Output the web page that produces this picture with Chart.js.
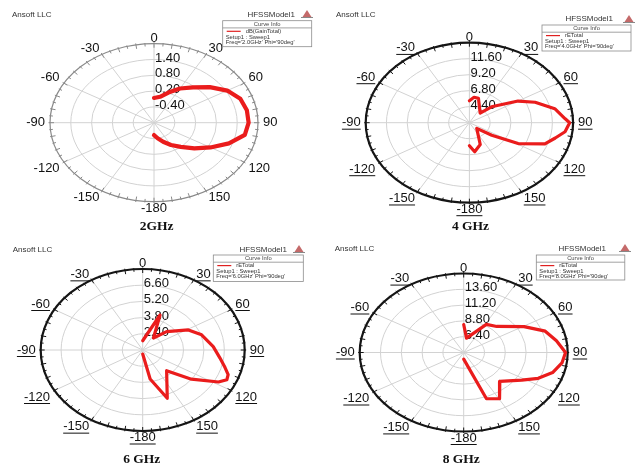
<!DOCTYPE html>
<html>
<head>
<meta charset="utf-8">
<script src="https://cdn.jsdelivr.net/npm/chart.js@4/dist/chart.umd.min.js"></script>
<style>
  html, body { margin: 0; padding: 0; background: #ffffff; }
  #sheet { position: relative; width: 638px; height: 469px; overflow: hidden; background: #ffffff; }
  #sheet canvas { position: absolute; }
</style>
</head>
<body>
<div id="sheet">
  <canvas id="p2" width="320" height="235" style="left:0px;top:0px;width:320px;height:235px"></canvas>
  <canvas id="p4" width="320" height="235" style="left:318px;top:0px;width:320px;height:235px"></canvas>
  <canvas id="p6" width="320" height="234" style="left:0px;top:235px;width:320px;height:234px"></canvas>
  <canvas id="p8" width="320" height="234" style="left:318px;top:235px;width:320px;height:234px"></canvas>
</div>
<script>
// ---- pattern cuts, Phi = 90deg, theta in degrees ----
const captions = ['2GHz', '4 GHz', '6 GHz', '8 GHz'];
const curveNames = ['dB(GainTotal)', 'rETotal', 'rETotal', 'rETotal'];
const freqTags = ["Freq='2.0GHz' Phi='90deg'", "Freq='4.0GHz' Phi='90deg'",
                  "Freq='6.0GHz' Phi='90deg'", "Freq='8.0GHz' Phi='90deg'"];
const angleLabels = [0, 30, 60, 90, 120, 150, -180, -150, -120, -90, -60, -30];

// 2 GHz : dB(GainTotal)
const theta2 = [0, 10, 20, 30, 40, 50, 60, 70, 80, 90, 100, 110, 120, 130, 140, 150, 160, 170, 180];
const gain2  = [-0.06, 0.0, 0.22, 0.5, 0.75, 1.1, 1.44, 1.65, 1.72, 1.73, 1.66, 1.3, 0.88, 0.52, 0.2, -0.02, -0.23, -0.4, -0.53];
const rings2 = [-0.40, 0.20, 0.80, 1.40];
const span2  = [-1.0, 2.0];

// 4 GHz : rETotal
const theta4 = [0, 8, 16, 41, 47, 60, 68, 78, 87, 90, 97, 103, 110, 119, 126, 135, 159, 172, 180];
const rE4    = [5.3, 5.85, 5.8, 3.9, 5.5, 8.5, 10.2, 12.1, 13.1, 13.6, 13.15, 12.2, 11.3, 8.45, 5.2, 3.2, 5.5, 6.4, 5.45];
const rings4 = [4.40, 6.80, 9.20, 11.60];
const span4  = [2.0, 14.0];

// 6 GHz : rETotal
const theta6 = [0, 21.5, 35.5, 46, 61, 72, 86.5, 97.5, 105, 110, 114, 118, 127, 137.5, 158, 168.5, 173, 180];
const rE6    = [1.8, 4.25, 2.27, 3.28, 4.58, 5.25, 5.85, 6.35, 6.85, 7.24, 7.32, 6.89, 5.19, 3.43, 5.5, 3.56, 1.72, 1.35];
const rings6 = [2.40, 3.80, 5.20, 6.60];
const span6  = [1.0, 8.0];

// 8 GHz : rETotal
const theta8 = [0, 8.5, 31.5, 44, 60.5, 71, 80.5, 90, 98, 106.5, 114.5, 122, 136.5, 149.5, 159.5, 180];
const rE8    = [8.25, 6.2, 9.0, 9.5, 12.0, 13.95, 14.85, 15.75, 15.45, 14.7, 13.45, 11.9, 10.05, 12.15, 11.5, 5.0];
const rings8 = [6.40, 8.80, 11.20, 13.60];
const span8  = [4.0, 16.0];

// ---- panel layout (pixels inside each canvas) ----
const panels = [
  { id: 'p2', theta: theta2, vals: gain2, rings: rings2, span: span2,
    cx: 154, cy: 122.7, rx: 104, ry: 79, rimColor: '#8a8a8a', rimWidth: 1.2, underline: false, lw: 4.2,
    ansoft: [12, 15], model: [295, 15], logo: [307, 15], box: [222.7, 20.7, 89, 26], cap: [156.7, 227] },
  { id: 'p4', theta: theta4, vals: rE4, rings: rings4, span: span4,
    cx: 151.4, cy: 122.7, rx: 103.7, ry: 80, rimColor: '#151515', rimWidth: 2.2, underline: true, lw: 3.2,
    ansoft: [18, 15], model: [295, 19], logo: [311, 20], box: [224, 25, 89, 26], cap: [152.5, 227] },
  { id: 'p6', theta: theta6, vals: rE6, rings: rings6, span: span6,
    cx: 142.7, cy: 115, rx: 102, ry: 81, rimColor: '#151515', rimWidth: 2.2, underline: true, lw: 3.2,
    ansoft: [12.7, 15], model: [287, 15], logo: [299, 15], box: [213.3, 20, 90, 26.5], cap: [141.7, 225] },
  { id: 'p8', theta: theta8, vals: rE8, rings: rings8, span: span8,
    cx: 145.7, cy: 117.5, rx: 104, ry: 79, rimColor: '#151515', rimWidth: 2.2, underline: true, lw: 3.2,
    ansoft: [16.7, 14], model: [288, 14], logo: [307, 14], box: [218.3, 20, 88.5, 25], cap: [143.3, 225] }
];

const SANS = '"Liberation Sans", Arial, sans-serif';
const SERIF = '"Liberation Serif", "Times New Roman", serif';
const RAD = Math.PI / 180;

// Polar grid, angle ring, labels and the HFSS header, drawn from the x/y scales
function polarFrame(p, idx) {
  return {
    id: 'polarFrame' + idx,
    beforeDatasetsDraw(chart) {
      const ctx = chart.ctx;
      const sx = chart.scales.x, sy = chart.scales.y;
      const cx = sx.getPixelForValue(0), cy = sy.getPixelForValue(0);
      const rx = sx.getPixelForValue(1) - cx, ry = cy - sy.getPixelForValue(1);
      const lo = p.span[0], hi = p.span[1];
      ctx.save();

      // rings
      ctx.strokeStyle = '#d2d2d2';
      ctx.lineWidth = 1;
      p.rings.forEach(v => {
        const f = (v - lo) / (hi - lo);
        ctx.beginPath();
        ctx.ellipse(cx, cy, rx * f, ry * f, 0, 0, Math.PI * 2);
        ctx.stroke();
      });
      // spokes every 30 degrees
      angleLabels.filter(a => a >= 0 && a < 180).forEach(a => {
        const s = Math.sin(a * RAD), c = Math.cos(a * RAD);
        ctx.beginPath();
        ctx.moveTo(cx - rx * s, cy + ry * c);
        ctx.lineTo(cx + rx * s, cy - ry * c);
        ctx.stroke();
      });

      // outer rim with degree ticks
      ctx.strokeStyle = p.rimColor;
      ctx.lineWidth = p.rimWidth;
      ctx.beginPath();
      ctx.ellipse(cx, cy, rx, ry, 0, 0, Math.PI * 2);
      ctx.stroke();
      ctx.lineWidth = 1;
      for (let a = 0; a < 360; a += 5) {
        const s = Math.sin(a * RAD), c = Math.cos(a * RAD);
        const lin = a % 10 === 0 ? 4 : 2.5, lout = a % 10 === 0 ? 1.5 : 1;
        ctx.beginPath();
        ctx.moveTo(cx + (rx - lin) * s, cy - (ry - lin) * c);
        ctx.lineTo(cx + (rx + lout) * s, cy - (ry + lout) * c);
        ctx.stroke();
      }

      // angle labels
      ctx.fillStyle = '#111';
      ctx.strokeStyle = '#111';
      ctx.font = '13px ' + SANS;
      ctx.textAlign = 'center';
      ctx.textBaseline = 'middle';
      angleLabels.forEach(a => {
        const txt = String(a);
        const s = Math.sin(a * RAD), c = Math.cos(a * RAD);
        const w = ctx.measureText(txt).width, h = 10;
        let x = cx + (rx + 5) * s, y = cy - ry * c;
        if (s > 0.1) x += w / 2; else if (s < -0.1) x -= w / 2;
        if (c > 0.1) y -= h / 2 + 0.5; else if (c < -0.1) y += h / 2 + 1.5;
        if (Math.abs(s) < 0.1) x = cx + (rx + 5) * s;
        ctx.fillText(txt, x, y);
        if (p.underline && a !== 0) {
          ctx.beginPath();
          ctx.moveTo(x - w / 2, y + 6.5);
          ctx.lineTo(x + w / 2, y + 6.5);
          ctx.stroke();
        }
      });

      // ring value labels along the 0 deg spoke
      ctx.textAlign = 'left';
      p.rings.forEach(v => {
        const f = (v - lo) / (hi - lo);
        ctx.fillText(v.toFixed(2), cx + 1, cy - ry * f - 1.5);
      });

      // header texts
      ctx.font = '8px ' + SANS;
      ctx.fillStyle = '#333';
      ctx.textAlign = 'left';
      ctx.fillText('Ansoft LLC', p.ansoft[0], p.ansoft[1]);
      ctx.textAlign = 'right';
      ctx.fillText('HFSSModel1', p.model[0], p.model[1]);

      // small logo
      const lx = p.logo[0], ly = p.logo[1];
      ctx.fillStyle = '#c46a6a';
      ctx.beginPath();
      ctx.moveTo(lx, ly - 5);
      ctx.lineTo(lx + 4.5, ly + 2);
      ctx.lineTo(lx - 4.5, ly + 2);
      ctx.closePath();
      ctx.fill();
      ctx.strokeStyle = '#888';
      ctx.beginPath();
      ctx.moveTo(lx - 6, ly + 2.5);
      ctx.lineTo(lx + 6, ly + 2.5);
      ctx.stroke();

      // curve info box
      const [bx, by, bw, bh] = p.box;
      ctx.fillStyle = '#fff';
      ctx.fillRect(bx, by, bw, bh);
      ctx.strokeStyle = '#8c8c8c';
      ctx.lineWidth = 0.8;
      ctx.strokeRect(bx, by, bw, bh);
      ctx.beginPath();
      ctx.moveTo(bx, by + 7.2);
      ctx.lineTo(bx + bw, by + 7.2);
      ctx.stroke();
      ctx.font = '5.8px ' + SANS;
      ctx.fillStyle = '#444';
      ctx.textAlign = 'center';
      ctx.fillText('Curve Info', bx + bw / 2, by + 3.8);
      ctx.strokeStyle = '#e02020';
      ctx.lineWidth = 1.2;
      ctx.beginPath();
      ctx.moveTo(bx + 4, by + 10.6);
      ctx.lineTo(bx + 18, by + 10.6);
      ctx.stroke();
      ctx.textAlign = 'left';
      ctx.fillStyle = '#333';
      ctx.fillText(curveNames[idx], bx + 23, by + 10.6);
      ctx.fillText('Setup1 : Sweep1', bx + 3, by + 16.6);
      ctx.fillText(freqTags[idx], bx + 3, by + 21.6);

      // caption
      ctx.font = 'bold 13.5px ' + SERIF;
      ctx.fillStyle = '#111';
      ctx.textAlign = 'center';
      ctx.fillText(captions[idx], p.cap[0], p.cap[1]);

      ctx.restore();
    }
  };
}

panels.forEach((p, idx) => {
  const canvas = document.getElementById(p.id);
  const lo = p.span[0], hi = p.span[1];
  const pts = p.theta.map((t, i) => {
    const f = (p.vals[i] - lo) / (hi - lo);
    return { x: f * Math.sin(t * RAD), y: f * Math.cos(t * RAD) };
  });
  new Chart(canvas, {
    type: 'scatter',
    data: {
      datasets: [{
        data: pts,
        showLine: true,
        borderColor: '#ea1c1c',
        borderWidth: p.lw,
        pointRadius: 0,
        tension: 0,
        fill: false,
        borderJoinStyle: 'round',
        borderCapStyle: 'round',
        clip: false
      }]
    },
    options: {
      responsive: false,
      animation: false,
      events: [],
      layout: {
        padding: {
          left: p.cx - p.rx,
          right: canvas.width - (p.cx + p.rx),
          top: p.cy - p.ry,
          bottom: canvas.height - (p.cy + p.ry)
        }
      },
      scales: {
        x: { type: 'linear', min: -1, max: 1, display: false },
        y: { type: 'linear', min: -1, max: 1, display: false }
      },
      plugins: { legend: { display: false }, tooltip: { enabled: false } }
    },
    plugins: [polarFrame(p, idx)]
  });
});
</script>
</body>
</html>
